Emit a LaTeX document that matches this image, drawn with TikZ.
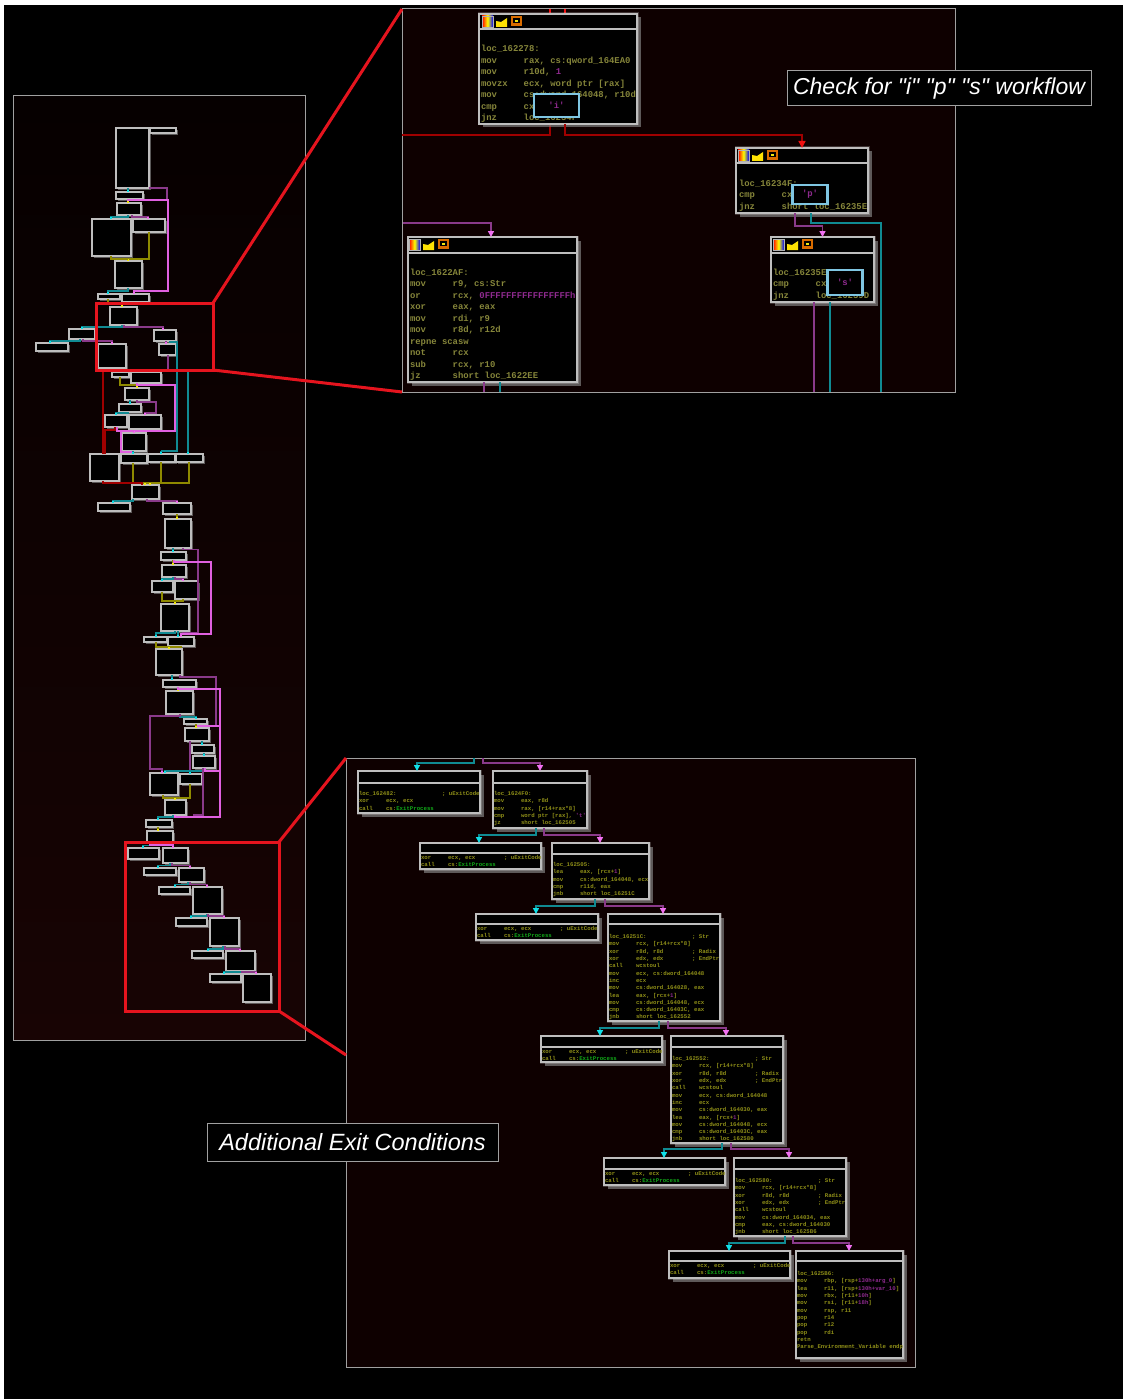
\documentclass[tikz,border=0pt]{standalone}
\usepackage{fontspec}
\setmainfont[Ligatures=TeXOff]{Liberation Sans}
\setmonofont{Liberation Mono}
\usetikzlibrary{shadows,arrows.meta}
\definecolor{bord}{HTML}{BEBEBE}
\definecolor{panelb}{HTML}{A0A0A0}
\definecolor{tealw}{HTML}{108A92}
\definecolor{cyant}{HTML}{10E0E8}
\definecolor{purw}{HTML}{8A3A8A}
\definecolor{pinkt}{HTML}{F070F0}
\definecolor{pinkw}{HTML}{E060E0}
\definecolor{yelw}{HTML}{8F8A00}
\definecolor{yelt}{HTML}{F0E810}
\definecolor{dred}{HTML}{A00000}
\definecolor{redt}{HTML}{F01010}
\definecolor{hlred}{HTML}{E5141E}
\definecolor{hlblue}{HTML}{7FC6E2}
\definecolor{asm}{HTML}{85853A}
\definecolor{asms}{HTML}{8F8F18}
\definecolor{numc}{HTML}{8E2A8E}
\definecolor{grn}{HTML}{10A818}
\definecolor{paneltop}{HTML}{060000}
\definecolor{panelbot}{HTML}{180404}
\definecolor{panelflat}{HTML}{0E0000}
\tikzset{
  x=1pt,y=-1pt,
  panelbox/.style={draw=panelb,line width=1pt,inner sep=0,outer sep=0,anchor=north west},
  minibox/.style={draw=bord,fill=black,line width=1.2pt,inner sep=0,outer sep=0,
    drop shadow={shadow xshift=2pt,shadow yshift=-2pt,fill=gray,opacity=.7},
    preaction={draw=white,line width=2.6pt,opacity=.22}},
  bigbox/.style={draw=bord,fill=black,line width=1.4pt,inner sep=0,outer sep=0,
    drop shadow={shadow xshift=3.5pt,shadow yshift=-3.5pt,fill=gray,opacity=.7},
    preaction={draw=white,line width=3pt,opacity=.2}},
  titleline/.style={draw=bord,line width=1.2pt},
  hlbox/.style={draw=hlblue,fill=black,line width=2.6pt,inner sep=0,outer sep=0},
  redbox/.style={draw=hlred,line width=3pt,inner sep=0,outer sep=0},
  redray/.style={draw=hlred,line width=3pt},
  calloutbox/.style={draw=panelb,fill=black,line width=1pt,inner sep=0,outer sep=0,
    text=white},
  bigtext/.style={inner sep=0,outer sep=0,anchor=north west,align=left,text=asm,
    font=\ttfamily\bfseries\fontsize{8.9}{11.5}\selectfont},
  smalltext/.style={inner sep=0,outer sep=0,anchor=north west,align=left,text=asms,
    font=\ttfamily\bfseries\fontsize{5.7}{7.3}\selectfont},
  twire/.style={draw=tealw,line width=1.2pt,-{Rectangle[length=2pt,width=2.4pt,color=cyant,fill=cyant]}},
  pwire/.style={draw=purw,line width=1.2pt,-{Rectangle[length=2pt,width=2.4pt,color=pinkt,fill=pinkt]}},
  kwire/.style={draw=pinkw,line width=1.2pt,-{Rectangle[length=2pt,width=2.4pt,color=pinkt,fill=pinkt]}},
  ywire/.style={draw=yelw,line width=1.2pt,-{Rectangle[length=2pt,width=2.4pt,color=yelt,fill=yelt]}},
  rwire/.style={draw=dred,line width=1.4pt},
  tbig/.style={draw=tealw,line width=1.4pt,-{Triangle[length=6pt,width=6pt,color=cyant,fill=cyant]}},
  pbig/.style={draw=purw,line width=1.4pt,-{Triangle[length=6pt,width=6pt,color=pinkt,fill=pinkt]}},
  rbig/.style={draw=dred,line width=1.4pt,-{Triangle[length=7pt,width=7pt,color=redt,fill=redt]}},
  tplain/.style={draw=tealw,line width=1.4pt},
  pplain/.style={draw=purw,line width=1.4pt},
  rplain/.style={draw=dred,line width=1.4pt},
  iconone/.style={left color=red,right color=blue,middle color=yellow,draw=white!70!black,line width=.5pt},
  icontwo/.style={fill=yellow!85!orange,draw=none},
  iconthree/.style={fill=orange!85!black,draw=none},
}
% mini block: name x1 y1 x2 y2
\newcommand\mb[5]{\node[minibox,minimum width={(#4-#2)*1pt},minimum height={(#5-#3)*1pt}] (#1) at ({(#2+#4)/2},{(#3+#5)/2}) {};}
% big block: name x1 y1 x2 y2 titley
\newcommand\bb[6]{\node[bigbox,minimum width={(#4-#2)*1pt},minimum height={(#5-#3)*1pt}] (#1) at ({(#2+#4)/2},{(#3+#5)/2}) {};
  \draw[titleline] (#1.north west |- 0,#6) -- (#1.north east |- 0,#6);}
% panel: name x1 y1 x2 y2
\newcommand\pn[6]{\node[panelbox,minimum width={(#4-#2)*1pt},minimum height={(#5-#3)*1pt},#6] (#1) at (#2,#3) {};}
% connector: style from xa ymid to xb
\newcommand\bus[6]{\draw[#1] (#2.south -| #3,0) -- (#3,#4) -- (#6,#4) -- (#5.north -| #6,0);}
% straight tick
\newcommand\tick[4]{\draw[#1] (#2.south -| #4,0) -- (#3.north -| #4,0);}
% icons
\newcommand\icons[2]{%
  \fill[iconone] (#1,#2) rectangle ++(11,11);
  \fill[icontwo] (#1+14,#2+11) -- (#1+25,#2+11) -- (#1+25,#2+2) -- (#1+19,#2+6) -- (#1+14,#2+5) -- cycle;
  \fill[iconthree] (#1+29,#2) rectangle ++(11,10);
  \fill[black] (#1+31,#2+2) rectangle ++(7,5);
  \fill[yelt] (#1+33,#2+4) rectangle ++(3,2);
}
% text rows
\newcommand\opb[2]{\makebox[42.7pt][l]{#1}#2}
\newcommand\ops[2]{\makebox[27pt][l]{#1}#2}
\newcommand\opc[3]{\makebox[83pt][l]{\makebox[27pt][l]{#1}#2}; #3}
\newcommand\opd[2]{\makebox[83pt][l]{#1}; #2}
\newcommand\num[1]{\textcolor{numc}{#1}}
\newcommand\gx{\textcolor{grn}{ExitProcess}}
\begin{document}
\begin{tikzpicture}
\useasboundingbox (0,0) rectangle (1123,1399);
\fill[white] (0,0) rectangle (1123,1399);
\fill[black] (4,5) rectangle (1123,1399);

% panels
\pn{panelL}{13}{96}{305}{1040}{top color=paneltop,bottom color=panelbot}
\pn{panelA}{402}{9}{955}{392}{fill=panelflat}
\pn{panelB}{346}{758}{915}{1367}{fill=panelflat}

% ---------- mini graph boxes
\mb{m1}{116}{128}{149}{188}\mb{m2}{150}{128}{176}{133}\mb{m3}{116}{192}{143}{199}
\mb{m4}{117}{203}{141}{215}\mb{m5}{92}{219}{131}{256}\mb{m6}{133}{219}{165}{232}
\mb{m7}{115}{261}{142}{288}\mb{m8}{98}{294}{120}{299}\mb{m9}{122}{294}{149}{302}
\mb{m10}{110}{307}{137}{325}\mb{m11}{69}{329}{95}{339}\mb{m12}{154}{330}{176}{341}
\mb{m13}{36}{343}{68}{351}\mb{m14}{98}{344}{126}{368}\mb{m15}{159}{344}{176}{355}
\mb{m16}{112}{372}{129}{377}\mb{m17}{131}{372}{161}{383}\mb{m18}{125}{388}{149}{400}
\mb{m19}{119}{404}{141}{412}\mb{m20}{105}{415}{127}{427}\mb{m21}{129}{415}{161}{429}
\mb{m22}{122}{433}{146}{451}\mb{m23}{90}{454}{119}{481}\mb{m24}{121}{454}{147}{463}
\mb{m25}{148}{454}{175}{462}\mb{m26}{176}{454}{203}{462}\mb{m27}{132}{485}{159}{499}
\mb{m28}{98}{503}{130}{511}\mb{m29}{163}{503}{191}{514}\mb{m30}{165}{519}{191}{548}
\mb{m31}{161}{552}{186}{560}\mb{m32}{162}{565}{186}{577}\mb{m33}{152}{581}{173}{592}
\mb{m34}{175}{581}{198}{599}\mb{m35}{161}{604}{189}{631}\mb{m36}{144}{637}{167}{642}
\mb{m37}{168}{637}{194}{646}\mb{m38}{156}{649}{182}{675}\mb{m39}{163}{680}{196}{687}
\mb{m40}{166}{691}{193}{714}\mb{m41}{184}{719}{207}{724}\mb{m42}{185}{728}{209}{741}
\mb{m43}{192}{745}{214}{753}\mb{m44}{193}{756}{215}{768}\mb{m45}{150}{773}{178}{795}
\mb{m46}{180}{774}{202}{784}\mb{m47}{165}{800}{186}{815}\mb{m48}{146}{820}{172}{827}
\mb{m49}{147}{831}{173}{842}\mb{m50}{128}{848}{159}{859}\mb{m51}{163}{848}{188}{863}
\mb{m52}{144}{868}{176}{875}\mb{m53}{179}{868}{204}{882}\mb{m54}{159}{887}{190}{894}
\mb{m55}{193}{887}{222}{914}\mb{m56}{176}{918}{207}{926}\mb{m57}{210}{918}{239}{946}
\mb{m58}{192}{951}{223}{958}\mb{m59}{226}{951}{255}{971}\mb{m60}{210}{974}{241}{982}
\mb{m61}{243}{974}{271}{1002}

% ---------- mini graph connectors
\tick{twire}{m1}{m3}{128}
\draw[purw,line width=1.2pt] (m1.south east) -- (167,188) -- (167,200);
\tick{ywire}{m3}{m4}{128}
\draw[kwire] (m3.south -| 128,0) -- (128,200) -- (168,200) -- (168,291) -- (134,291) -- (m9.north -| 134,0);
\bus{twire}{m4}{128}{217}{m5}{111}
\bus{pwire}{m4}{132}{217}{m6}{148}
\bus{ywire}{m6}{149}{259}{m7}{128}
\draw[draw=yelw,line width=1.2pt] (m5.south -| 111,0) -- (111,259) -- (128,259);
\bus{twire}{m7}{128}{291}{m8}{108}
\bus{ywire}{m8}{108}{304}{m10}{122}
\tick{ywire}{m9}{m10}{122}
\bus{twire}{m10}{122}{327}{m11}{82}
\bus{pwire}{m10}{124}{327}{m12}{163}
\bus{twire}{m11}{80}{341}{m13}{50}
\bus{pwire}{m11}{83}{341}{m14}{112}
\tick{pwire}{m12}{m15}{166}
\draw[tealw,line width=1.2pt] (m12.south -| 170,0) -- (170,342) -- (177,342) -- (177,451) -- (161,451);
\draw[twire] (161,451) -- (m25.north -| 161,0);
\draw[purw,line width=1.2pt] (m15.south -| 168,0) -- (168,370);
\draw[twire] (188,372) -- (m26.north -| 188,0);
\bus{ywire}{m16}{120}{385}{m18}{137}
\tick{ywire}{m17}{m18}{137}
\draw[kwire] (m17.south -| 137,0) -- (137,385) -- (175,385) -- (175,431) -- (134,431) -- (m22.north -| 134,0);
\tick{twire}{m18}{m19}{130}
\draw[pwire] (m18.south -| 137,0) -- (137,402) -- (156,402) -- (156,413) -- (145,413) -- (m21.north -| 145,0);
\bus{twire}{m19}{128}{413}{m20}{116}
\draw[draw=pinkw,line width=1.2pt] (m20.south -| 117,0) -- (117,431) -- (134,431);
\draw[kwire] (134,431) -- (121,431) -- (121,452) -- (133,452) -- (m24.north -| 133,0);
\tick{twire}{m22}{m24}{133}
\draw[rwire,line width=2pt] (103,371) -- (m23.north -| 103,0);
\draw[rwire] (m20.south -| 115,0) -- (115,430) -- (105,430) -- (m23.north -| 105,0);
\bus{ywire}{m24}{133}{483}{m27}{145}
\bus{ywire}{m25}{161}{483}{m27}{145}
\bus{ywire}{m26}{189}{483}{m27}{150}
\draw[rwire] (m23.south -| 103,0) -- (103,483) -- (142,483) -- (m27.north -| 142,0);
\bus{twire}{m27}{133}{501}{m28}{113}
\bus{pwire}{m27}{147}{501}{m29}{177}
\tick{ywire}{m29}{m30}{177}
\tick{twire}{m30}{m31}{173}
\draw[purw,line width=1.2pt] (m30.south -| 183,0) -- (183,549.5) -- (198,549.5) -- (198,633) -- (182,633);
\tick{ywire}{m31}{m32}{173}
\draw[kwire] (m31.south -| 174,0) -- (174,562) -- (211,562) -- (211,634) -- (181,634) -- (m37.north -| 181,0);
\bus{twire}{m32}{173}{579}{m33}{162}
\bus{pwire}{m32}{175}{579}{m34}{183}
\bus{ywire}{m33}{162}{601}{m35}{175}
\bus{ywire}{m34}{183}{601}{m35}{175}
\tick{twire}{m35}{m37}{178}
\bus{twire}{m35}{175}{633}{m36}{156}
\bus{ywire}{m36}{156}{647}{m38}{169}
\bus{ywire}{m37}{181}{647}{m38}{169}
\tick{twire}{m38}{m39}{172}
\draw[purw,line width=1.2pt] (m38.south -| 180,0) -- (180,677) -- (216,677) -- (216,725);
\tick{ywire}{m39}{m40}{178}
\draw[kwire] (m39.south -| 178,0) -- (178,689) -- (220,689) -- (220,817) -- (175,817) -- (m47.south -| 175,0);
\bus{twire}{m40}{180}{717}{m41}{196}
\draw[pwire] (m40.south -| 180,0) -- (180,716) -- (150,716) -- (150,769) -- (162,769) -- (m45.north -| 162,0);
\draw[draw=pinkw,line width=1.6pt] (m41.south -| 196,0) -- (196,726) -- (219,726);
\tick{ywire}{m41}{m42}{196}
\tick{twire}{m42}{m43}{202}
\draw[purw,line width=1.2pt] (m42.south -| 190,0) -- (190,771);
\tick{twire}{m43}{m44}{204}
\draw[draw=pinkw,line width=1.2pt] (m44.south -| 205,0) -- (205,771) -- (219,771);
\bus{twire}{m44}{203}{771}{m45}{165}
\bus{twire}{m44}{203}{771}{m46}{190}
\draw[purw,line width=1.2pt] (m44.south -| 203,0) -- (203,815) -- (193,815);
\bus{ywire}{m45}{163}{798}{m47}{175}
\bus{ywire}{m46}{190}{798}{m47}{175}
\bus{twire}{m47}{173}{817}{m48}{158}
\tick{ywire}{m48}{m49}{158}
\bus{twire}{m49}{150}{845.5}{m50}{143}
\bus{kwire}{m49}{150}{845}{m51}{173}
\bus{twire}{m51}{170}{865.5}{m52}{158}
\bus{pwire}{m51}{172}{865.5}{m53}{190}
\bus{twire}{m53}{188}{884.5}{m54}{175}
\bus{pwire}{m53}{190}{884.5}{m55}{207}
\bus{twire}{m55}{207}{916}{m56}{191}
\bus{pwire}{m55}{208}{916}{m57}{224}
\bus{twire}{m57}{223}{949}{m58}{208}
\bus{pwire}{m57}{225}{949}{m59}{240}
\bus{twire}{m59}{240}{972}{m60}{224}
\bus{pwire}{m59}{242}{972}{m61}{256}

% ---------- upper detail panel
\draw[rplain,draw=redt] (550,9) -- (550,14);
\draw[rplain,draw=redt] (565,9) -- (565,14);
\draw[rplain] (550,124) -- (550,135) -- (panelA.west |- 0,135);
\coordinate (pAbottomD1) at (484,392);
\coordinate (pAbottomD2) at (500,392);
\coordinate (pAbottomC1) at (814,392);
\coordinate (pAbottomC2) at (830,392);
\coordinate (pAbottomB) at (881,392);
\coordinate (pAleftP) at (403,223);

\bb{blkA}{479}{14}{637}{124}{29}
\bb{blkP}{736}{148}{868}{213}{163}
\bb{blkS}{771}{237}{874}{302}{253}
\bb{blkD}{408}{237}{577}{382}{253}

\draw[rbig] (blkA.south -| 565,0) -- (565,135) -- (802,135) -- (blkP.north -| 802,0);
\draw[pbig] (pAleftP) -- (491,223) -- (blkD.north -| 491,0);
\draw[pbig] (blkP.south -| 795,0) -- (795,226) -- (822.5,226) -- (blkS.north -| 822.5,0);
\draw[tplain] (blkP.south -| 811,0) -- (811,223) -- (881,223) -- (pAbottomB);
\draw[pplain] (blkS.south -| 814,0) -- (pAbottomC1);
\draw[tplain] (blkS.south -| 830,0) -- (pAbottomC2);
\draw[pplain] (blkD.south -| 484,0) -- (pAbottomD1);
\draw[tplain] (blkD.south -| 500,0) -- (pAbottomD2);

\icons{482}{16}\icons{738}{150}\icons{773}{239}\icons{409}{239}

\node[bigtext] (txtA) at (481,45.5) {loc\_162278:\\
\opb{mov}{rax, cs:qword\_164EA0}\\
\opb{mov}{r10d, \num{1}}\\
\opb{movzx}{ecx, word ptr [rax]}\\
\opb{mov}{cs:dword\_164048, r10d}\\
\opb{cmp}{cx, }\\
\opb{jnz}{loc\_16234F}};
\node[bigtext] (txtP) at (739,180) {loc\_16234F:\\
\opb{cmp}{cx, }\\
\opb{jnz}{short loc\_16235E}};
\node[bigtext] (txtS) at (773,269) {loc\_16235E:\\
\opb{cmp}{cx, }\\
\opb{jnz}{loc\_16239D}};
\node[bigtext] (txtD) at (410,269) {loc\_1622AF:\\
\opb{mov}{r9, cs:Str}\\
\opb{or}{rcx, \num{0FFFFFFFFFFFFFFFFh}}\\
\opb{xor}{eax, eax}\\
\opb{mov}{rdi, r9}\\
\opb{mov}{r8d, r12d}\\
repne scasw\\
\opb{not}{rcx}\\
\opb{sub}{rcx, r10}\\
\opb{jz}{short loc\_1622EE}};

\node[hlbox,minimum width=45pt,minimum height=23pt,text=numc,font=\ttfamily\bfseries\fontsize{8.9}{11.5}\selectfont] (hlI) at (556.5,105.5) {'i'};
\node[hlbox,minimum width=34.5pt,minimum height=19pt,text=numc,font=\ttfamily\bfseries\fontsize{8.9}{11.5}\selectfont] (hlP) at (810,194.5) {'p'};
\node[hlbox,minimum width=35.5pt,minimum height=25pt,text=numc,font=\ttfamily\bfseries\fontsize{8.9}{11.5}\selectfont] (hlS) at (845,282.5) {'s'};

% ---------- lower detail panel
\coordinate (pBtopA) at (474,758);
\coordinate (pBtopB) at (483,758);
\bb{e1}{358}{771}{480}{813}{783}
\bb{e2}{493}{771}{587}{828}{783}
\bb{e3}{420}{843}{541}{869}{853}
\bb{e4}{552}{843}{649}{899}{854}
\bb{e5}{476}{914}{598}{940}{924}
\bb{e6}{608}{914}{720}{1021}{924}
\bb{e7}{541}{1036}{662}{1062}{1047}
\bb{e8}{671}{1036}{783}{1143}{1047}
\bb{e9}{604}{1158}{725}{1185}{1169}
\bb{e10}{734}{1158}{846}{1236}{1169}
\bb{e11}{669}{1251}{790}{1278}{1261}
\bb{e12}{796}{1251}{903}{1358}{1261}

\draw[tbig] (pBtopA) -- (474,763) -- (417,763) -- (e1.north -| 417,0);
\draw[pbig] (pBtopB) -- (483,763) -- (540,763) -- (e2.north -| 540,0);
\bus{tbig}{e2}{536}{835}{e3}{479}
\bus{pbig}{e2}{544}{835}{e4}{600}
\bus{tbig}{e4}{595}{906}{e5}{536}
\bus{pbig}{e4}{605}{906}{e6}{663}
\bus{tbig}{e6}{659}{1028}{e7}{600}
\bus{pbig}{e6}{668}{1028}{e8}{726}
\bus{tbig}{e8}{722}{1149}{e9}{664}
\bus{pbig}{e8}{731}{1149}{e10}{789}
\bus{tbig}{e10}{785}{1243}{e11}{729}
\bus{pbig}{e10}{793}{1243}{e12}{849}

\node[smalltext] (te1) at (359,791.5) {\opd{loc\_162482:}{uExitCode}\\
\ops{xor}{ecx, ecx}\\
\ops{call}{cs:\gx}};
\node[smalltext] (te2) at (494,791.5) {loc\_1624F0:\\
\ops{mov}{eax, r8d}\\
\ops{mov}{rax, [r14+rax*8]}\\
\ops{cmp}{word ptr [rax], \num{'t'}}\\
\ops{jz}{short loc\_162505}};
\node[smalltext] (te3) at (421,855) {\opc{xor}{ecx, ecx}{uExitCode}\\
\ops{call}{cs:\gx}};
\node[smalltext] (te4) at (553,862.5) {loc\_162505:\\
\ops{lea}{eax, [rcx+\num{1}]}\\
\ops{mov}{cs:dword\_164048, ecx}\\
\ops{cmp}{r11d, eax}\\
\ops{jnb}{short loc\_16251C}};
\node[smalltext] (te5) at (477,926.5) {\opc{xor}{ecx, ecx}{uExitCode}\\
\ops{call}{cs:\gx}};
\node[smalltext] (te6) at (609,934.5) {\opd{loc\_16251C:}{Str}\\
\ops{mov}{rcx, [r14+rcx*8]}\\
\opc{xor}{r8d, r8d}{Radix}\\
\opc{xor}{edx, edx}{EndPtr}\\
\ops{call}{wcstoul}\\
\ops{mov}{ecx, cs:dword\_164048}\\
\ops{inc}{ecx}\\
\ops{mov}{cs:dword\_164028, eax}\\
\ops{lea}{eax, [rcx+\num{1}]}\\
\ops{mov}{cs:dword\_164048, ecx}\\
\ops{cmp}{cs:dword\_16403C, eax}\\
\ops{jnb}{short loc\_162552}};
\node[smalltext] (te7) at (542,1049.5) {\opc{xor}{ecx, ecx}{uExitCode}\\
\ops{call}{cs:\gx}};
\node[smalltext] (te8) at (672,1056.5) {\opd{loc\_162552:}{Str}\\
\ops{mov}{rcx, [r14+rcx*8]}\\
\opc{xor}{r8d, r8d}{Radix}\\
\opc{xor}{edx, edx}{EndPtr}\\
\ops{call}{wcstoul}\\
\ops{mov}{ecx, cs:dword\_164048}\\
\ops{inc}{ecx}\\
\ops{mov}{cs:dword\_164030, eax}\\
\ops{lea}{eax, [rcx+\num{1}]}\\
\ops{mov}{cs:dword\_164048, ecx}\\
\ops{cmp}{cs:dword\_16403C, eax}\\
\ops{jnb}{short loc\_162580}};
\node[smalltext] (te9) at (605,1171.5) {\opc{xor}{ecx, ecx}{uExitCode}\\
\ops{call}{cs:\gx}};
\node[smalltext] (te10) at (735,1178.5) {\opd{loc\_162580:}{Str}\\
\ops{mov}{rcx, [r14+rcx*8]}\\
\opc{xor}{r8d, r8d}{Radix}\\
\opc{xor}{edx, edx}{EndPtr}\\
\ops{call}{wcstoul}\\
\ops{mov}{cs:dword\_164034, eax}\\
\ops{cmp}{eax, cs:dword\_164030}\\
\ops{jnb}{short loc\_1625B6}};
\node[smalltext] (te11) at (670,1263.5) {\opc{xor}{ecx, ecx}{uExitCode}\\
\ops{call}{cs:\gx}};
\node[smalltext] (te12) at (797,1271.5) {loc\_1625B6:\\
\ops{mov}{rbp, [rsp+\num{130h+arg\_0}]}\\
\ops{lea}{r11, [rsp+\num{130h+var\_10}]}\\
\ops{mov}{rbx, [r11+\num{10h}]}\\
\ops{mov}{rsi, [r11+\num{18h}]}\\
\ops{mov}{rsp, r11}\\
\ops{pop}{r14}\\
\ops{pop}{r12}\\
\ops{pop}{rdi}\\
retn\\
Parse\_Environment\_Variable endp};

% ---------- red highlights
\node[redbox,anchor=north west,minimum width=117pt,minimum height=67pt] (zoomA) at (96,303) {};
\node[redbox,anchor=north west,minimum width=154pt,minimum height=169pt] (zoomB) at (125,842) {};
\draw[redray] (zoomA.north east) -- (panelA.north west);
\draw[redray] (zoomA.south east) -- (panelA.south west);
\draw[redray] (zoomB.north east) -- (panelB.north west);
\draw[redray] (zoomB.south east) -- (panelB.west |- 0,1055);

% ---------- call-outs
\node[calloutbox,minimum width=304pt,minimum height=35pt,font=\fontsize{23}{27}\selectfont\itshape] (calloutA) at (939,88.5) {Check for "i" "p" "s" workflow};
\node[calloutbox,minimum width=291pt,minimum height=38pt,font=\fontsize{23.5}{27}\selectfont\itshape] (calloutB) at (352.5,1142) {Additional Exit Conditions};
\end{tikzpicture}
\end{document}
